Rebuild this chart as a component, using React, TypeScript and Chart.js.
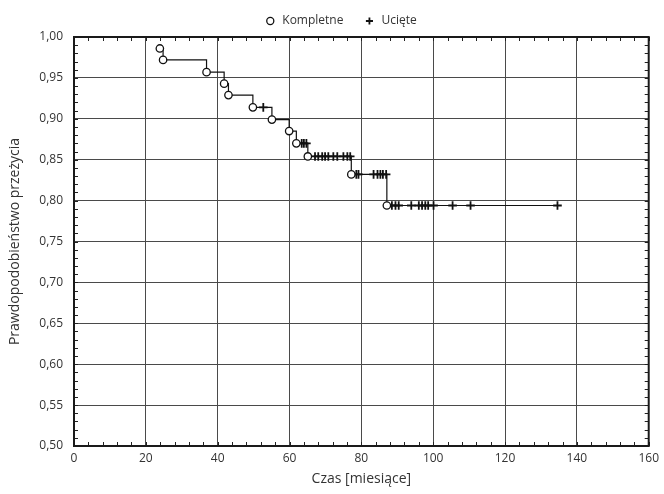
import React, { useEffect, useRef } from "react";
import { Chart, registerables } from "chart.js";

Chart.register(...registerables);

// Event (complete) observations: time [months] and survival probability
const eventTimes = [23.9, 24.8, 36.9, 41.8, 43, 49.8, 55.1, 59.9, 61.9, 65.1, 77.2, 87.1];
const eventSurvival = [0.986, 0.972, 0.957, 0.943, 0.929, 0.914, 0.899, 0.885, 0.87, 0.854, 0.832, 0.794];

// Censored observations: time [months] and survival probability at that time
const censorTimes = [
  52.7, 63.4, 64, 64.7, 67.1, 68, 69.1, 69.9, 70.8, 72.2, 73.3, 75, 76.1, 76.9, 78.6, 79.2, 83.4, 84.5, 85.3,
  86, 86.9, 88.5, 89.5, 90.4, 93.9, 96, 96.9, 97.8, 98.6, 100.1, 105.4, 110.4, 134.6,
];
const censorSurvival = [
  0.914, 0.87, 0.87, 0.87, 0.854, 0.854, 0.854, 0.854, 0.854, 0.854, 0.854, 0.854, 0.854, 0.854, 0.832, 0.832,
  0.832, 0.832, 0.832, 0.832, 0.832, 0.794, 0.794, 0.794, 0.794, 0.794, 0.794, 0.794, 0.794, 0.794, 0.794,
  0.794, 0.794,
];

const legendLabels = ["Kompletne", "Ucięte"];
const xTitle = "Czas [miesiące]";
const yTitle = "Prawdopodobieństwo przeżycia";

const FONT = "'Open Sans', 'Noto Sans', sans-serif";
const TEXT = "#333333";

const framePlugin = {
  id: "frameMinor",
  afterLayout(chart: any) {
    if (chart.legend) {
      chart.legend.left += 31;
    }
  },
  beforeDatasetsDraw(chart: any) {
    const { ctx, chartArea, scales } = chart;
    const { left, right, top, bottom } = chartArea;
    ctx.save();
    ctx.strokeStyle = "#222";
    ctx.lineWidth = 1;
    const len = 4;
    ctx.beginPath();
    for (let v = 0; v <= 160; v += 4) {
      const px = Math.round(scales.x.getPixelForValue(v)) + 0.5;
      ctx.moveTo(px, bottom);
      ctx.lineTo(px, bottom - len);
      ctx.moveTo(px, top);
      ctx.lineTo(px, top + len);
    }
    for (let i = 0; i <= 50; i++) {
      const v = 0.5 + i * 0.01;
      const py = Math.round(scales.y.getPixelForValue(v)) + 0.5;
      ctx.moveTo(left, py);
      ctx.lineTo(left + len, py);
      ctx.moveTo(right, py);
      ctx.lineTo(right - len, py);
    }
    ctx.stroke();
    ctx.lineWidth = 2;
    ctx.strokeStyle = "#1a1a1a";
    ctx.strokeRect(left, top, right - left, bottom - top);
    ctx.restore();
  },
};

export default function App() {
  const ref = useRef<HTMLCanvasElement | null>(null);

  useEffect(() => {
    document.body.style.margin = "0";
    const all = eventTimes
      .map((t, i) => ({ x: t, y: eventSurvival[i] }))
      .concat(censorTimes.map((t, i) => ({ x: t, y: censorSurvival[i] })))
      .sort((a, b) => a.x - b.x);

    const chart = new Chart(ref.current as HTMLCanvasElement, {
      type: "scatter",
      data: {
        datasets: [
          {
            label: legendLabels[0],
            data: eventTimes.map((t, i) => ({ x: t, y: eventSurvival[i] })),
            pointStyle: "circle",
            pointRadius: 3.7,
            pointBorderWidth: 1.3,
            backgroundColor: "#ffffff",
            borderColor: "#111111",
          },
          {
            label: legendLabels[1],
            data: censorTimes.map((t, i) => ({ x: t, y: censorSurvival[i] })),
            pointStyle: "cross",
            pointRadius: 4.3,
            pointBorderWidth: 1.8,
            backgroundColor: "#111111",
            borderColor: "#111111",
          },
          {
            label: "line",
            type: "line",
            data: all,
            showLine: true,
            stepped: "before",
            pointRadius: 0,
            borderColor: "#111111",
            borderWidth: 1.2,
            fill: false,
          } as any,
        ],
      },
      options: {
        animation: false,
        responsive: false,
        layout: { padding: { top: -5, right: 14, bottom: 0, left: 0 } },
        plugins: {
          tooltip: { enabled: false },
          legend: {
            position: "top",
            labels: {
              usePointStyle: true,
              boxWidth: 12,
              boxHeight: 5,
              padding: 20,
              color: TEXT,
              font: { family: FONT, size: 12 },
              filter: (item: any) => item.datasetIndex !== 2,
            },
          },
        },
        scales: {
          x: {
            type: "linear",
            min: 0,
            max: 160,
            afterFit: (s: any) => {
              s.height = 48;
            },
            ticks: {
              stepSize: 20,
              padding: 5,
              color: TEXT,
              font: { family: FONT, size: 12 },
            },
            grid: { color: "#4a4a4a", lineWidth: 1, drawTicks: false },
            border: { display: false },
            title: {
              display: true,
              text: xTitle,
              color: TEXT,
              font: { family: FONT, size: 14 },
              padding: { top: 0, bottom: 7 },
            },
          },
          y: {
            type: "linear",
            min: 0.5,
            max: 1.0,
            afterFit: (s: any) => {
              s.width = 74;
            },
            ticks: {
              stepSize: 0.05,
              padding: 11,
              color: TEXT,
              font: { family: FONT, size: 12 },
              callback: (v: any) => Number(v).toFixed(2).replace(".", ","),
            },
            grid: { color: "#4a4a4a", lineWidth: 1, drawTicks: false },
            border: { display: false },
            title: {
              display: true,
              text: yTitle,
              color: TEXT,
              font: { family: FONT, size: 14 },
              padding: { top: 7, bottom: 0 },
            },
          },
        },
      },
      plugins: [framePlugin],
    } as any);
    return () => chart.destroy();
  }, []);

  return <canvas ref={ref} width={664} height={494} style={{ display: "block" }} />;
}
